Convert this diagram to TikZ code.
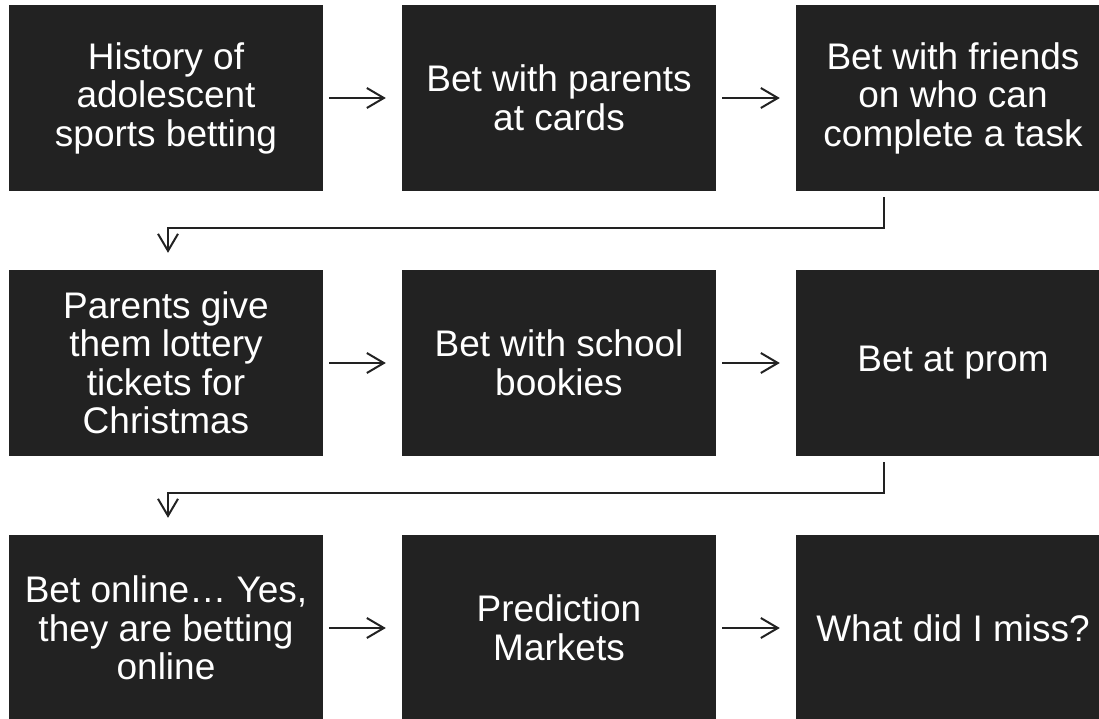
\documentclass[tikz,border=0pt]{standalone}
\usepackage{fontspec}
\setmainfont{Liberation Sans}
\usetikzlibrary{arrows.meta,positioning}
\definecolor{boxfill}{HTML}{222222}
\tikzset{
  stage/.style={fill=boxfill, text=white, minimum width=314pt, minimum height=186pt,
    inner sep=0pt, align=center, font=\fontsize{37}{38.5}\selectfont},
  flow/.style={draw=boxfill, line width=2pt, -{Straight Barb[length=17pt,width=20pt,line width=2pt]}}
}
\begin{document}
\begin{tikzpicture}[x=1pt,y=-1pt]
    \useasboundingbox (0,0) rectangle (1099,719);
    \clip (0,0) rectangle (1099,719);
    % First row:
    \node[stage] (history) at (166,98) {History of\\adolescent\\sports betting};
    \node[stage] (parents) at (559,98) {Bet with parents\\at cards};
    \node[stage] (friends) at (953,98) {Bet with friends\\on who can\\complete a task};
    % Second row:
    \node[stage] (lottery) at (166,363) {Parents give\\them lottery\\tickets for\\Christmas};
    \node[stage] (bookies) at (559,363) {Bet with school\\bookies};
    \node[stage] (prom) at (953,363) {Bet at prom};
    % Third row:
    \node[stage] (online) at (166,628) {Bet online\dots{} Yes,\\they are betting\\online};
    \node[stage] (markets) at (559,628) {Prediction\\Markets};
    \node[stage] (miss) at (953,628) {What did I miss?};
    % Arrows along the rows:
    \draw[flow] ([xshift=6pt]history.east) -- ([xshift=-16pt]parents.west);
    \draw[flow] ([xshift=6pt]parents.east) -- ([xshift=-16pt]friends.west);
    \draw[flow] ([xshift=6pt]lottery.east) -- ([xshift=-16pt]bookies.west);
    \draw[flow] ([xshift=6pt]bookies.east) -- ([xshift=-16pt]prom.west);
    \draw[flow] ([xshift=6pt]online.east) -- ([xshift=-16pt]markets.west);
    \draw[flow] ([xshift=6pt]markets.east) -- ([xshift=-16pt]miss.west);
    % Arrows down to the next row:
    \draw[flow] ([xshift=-69pt,yshift=-6pt]friends.south) |- ([xshift=2pt,yshift=42pt]lottery.north)
      -- ([xshift=2pt,yshift=17pt]lottery.north);
    \draw[flow] ([xshift=-69pt,yshift=-6pt]prom.south) |- ([xshift=2pt,yshift=42pt]online.north)
      -- ([xshift=2pt,yshift=17pt]online.north);
\end{tikzpicture}
\end{document}
